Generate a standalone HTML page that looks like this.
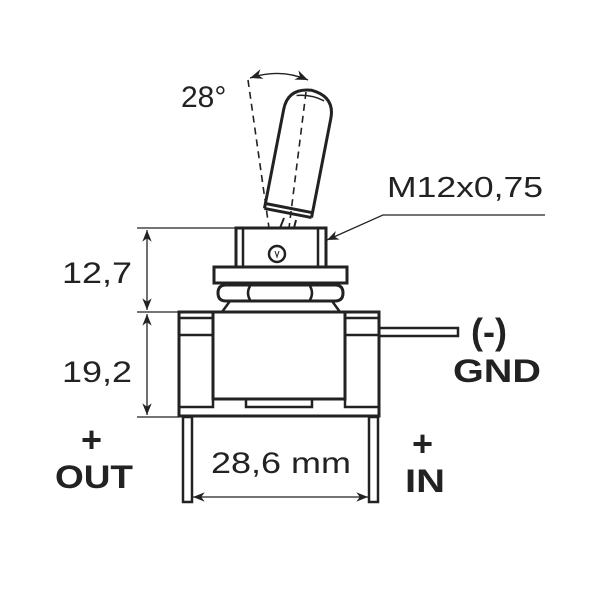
<!DOCTYPE html>
<html><head><style>body{margin:0;background:#fff}svg{display:block}</style></head><body>
<svg width="600" height="600" viewBox="0 0 600 600" xmlns="http://www.w3.org/2000/svg" font-family="Liberation Sans, sans-serif">
<defs>
<marker id="a" viewBox="0 0 10 10" refX="10" refY="5" markerWidth="9" markerHeight="9" orient="auto-start-reverse"><path d="M0,1 L10,5 L0,9 L3,5 Z" fill="#222"/></marker>
</defs>
<g fill="none" stroke="#222">
<!-- lever dashed lines -->
<path d="M248,80 L269,228" stroke-width="1.6" stroke-dasharray="7,5"/>
<path d="M306,92 L289,228" stroke-width="1.6" stroke-dasharray="7,5"/>
<path d="M250,78 Q280,68 308,80" stroke-width="1.4" marker-start="url(#a)" marker-end="url(#a)"/>
<!-- lever -->
<g transform="rotate(11 288 213)">
<path d="M264,213 L264,112 Q264,90 288,88 Q312,90 312,112 L312,213" stroke-width="3"/>
<path d="M264,208 L312,208 M264,213 L312,213" stroke-width="3"/>
<path d="M274,96 Q288,92 302,96" stroke-width="1.5"/>
</g>
<path d="M284,218 L280,228 M296,220 L294,228" stroke-width="2"/>
<!-- bushing -->
<rect x="236" y="228" width="90" height="39" stroke-width="3" fill="#fff"/>
<path d="M243,228 V267 M318,228 V267" stroke-width="2.5"/>
<circle cx="277" cy="254" r="8" stroke-width="2.5"/>
<path d="M275,251 L277,257 L279,251" stroke-width="1"/>
<!-- washer -->
<rect x="214" y="267" width="133" height="16" stroke-width="3" fill="#fff"/>
<!-- nut -->
<path d="M226,285 H335 Q343,285 343,293 Q343,301 335,301 H226 Q218,301 218,293 Q218,285 226,285 Z" stroke-width="3" fill="#fff"/>
<path d="M250,286 Q246,293 250,300 M310,286 Q314,293 310,300" stroke-width="2.5"/>
<path d="M230,301 L222,312 M332,301 L340,312" stroke-width="2.5"/>
<!-- body -->
<rect x="179" y="312" width="200" height="104" stroke-width="3" fill="#fff"/>
<rect x="213" y="312" width="132" height="87" stroke-width="3"/>
<path d="M179,318 H213 M179,335 H213 M345,318 H379 M345,335 H379" stroke-width="2.5"/>
<path d="M213,399 V407 H179 M345,399 V407 H379 M246,399 V407 H312 V399" stroke-width="2.5"/>
<!-- pins -->
<rect x="183" y="417" width="9" height="85" stroke-width="2.5"/>
<rect x="369" y="417" width="9" height="85" stroke-width="2.5"/>
<!-- wire -->
<rect x="379" y="328" width="79" height="8" stroke-width="2.5"/>
<!-- dimensions -->
<path d="M137,228 H236 M137,312 H179 M137,417 H179" stroke-width="1.2"/>
<path d="M147,230 V310" stroke-width="1.3" marker-start="url(#a)" marker-end="url(#a)"/>
<path d="M147,314 V415" stroke-width="1.3" marker-start="url(#a)" marker-end="url(#a)"/>
<path d="M193,497 H368" stroke-width="1.3" marker-start="url(#a)" marker-end="url(#a)"/>
<path d="M545,215 H383 L327,240" stroke-width="1.3" marker-end="url(#a)"/>
</g>
<g fill="#222">
<text x="181" y="107" font-size="30">28°</text>
<text x="387" y="197" font-size="29" textLength="156" lengthAdjust="spacingAndGlyphs">M12x0,75</text>
<text x="62" y="283" font-size="30" textLength="70" lengthAdjust="spacingAndGlyphs">12,7</text>
<text x="62" y="382" font-size="30" textLength="70" lengthAdjust="spacingAndGlyphs">19,2</text>
<text x="211" y="473" font-size="30" textLength="140" lengthAdjust="spacingAndGlyphs">28,6 mm</text>
<g font-weight="bold">
<text x="471" y="344" font-size="36">(-)</text>
<text x="453" y="382" font-size="32" textLength="88" lengthAdjust="spacingAndGlyphs">GND</text>
<text x="81" y="452" font-size="36">+</text>
<text x="55" y="488" font-size="32" textLength="78" lengthAdjust="spacingAndGlyphs">OUT</text>
<text x="412" y="456" font-size="36">+</text>
<text x="405" y="492" font-size="32" textLength="40" lengthAdjust="spacingAndGlyphs">IN</text>
</g>
</g>
</svg>
</body></html>
